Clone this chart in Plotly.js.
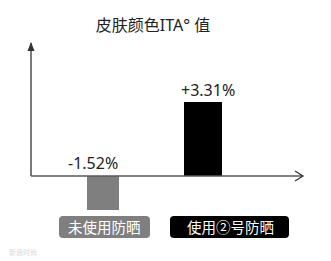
<!DOCTYPE html>
<html><head><meta charset="utf-8">
<script src="https://cdn.plot.ly/plotly-3.0.1.min.js"></script>
<style>html,body{margin:0;padding:0;background:#fff;}</style>
</head><body>
<div id="chart" style="width:331px;height:261px;"></div>
<script>
var categories = ["未使用防晒", "使用②号防晒"];
var values = [-1.52, 3.31];
var valueLabels = ["-1.52%", "+3.31%"];
var barColors = ["#7f7f7f", "#000000"];
var titleText = "皮肤颜色ITA° 值";

var FONT = "Noto Sans, Noto Sans CJK SC, sans-serif";
var yMin = -1.956, yMax = 5.911;
var xMin = -0.72, xMax = 2.0;
var xIdx = categories.map(function(c, i){ return i; });

function roundRect(x0, x1, y0, y1, r){
  return "M" + (x0+r) + "," + y1 + " L" + (x1-r) + "," + y1 + " Q" + x1 + "," + y1 + " " + x1 + "," + (y1-r) +
         " L" + x1 + "," + (y0+r) + " Q" + x1 + "," + y0 + " " + (x1-r) + "," + y0 +
         " L" + (x0+r) + "," + y0 + " Q" + x0 + "," + y0 + " " + x0 + "," + (y0+r) +
         " L" + x0 + "," + (y1-r) + " Q" + x0 + "," + y1 + " " + (x0+r) + "," + y1 + " Z";
}

var trace = {
  type: "bar",
  x: xIdx,
  y: values,
  width: [0.32, 0.38],
  marker: {color: barColors, line: {width: 0}},
  hoverinfo: "none"
};

var boxX = [[-44, 47], [-33, 86]];
var labelShift = [1, 27];

var shapes = [
  {type: "line", xref: "paper", yref: "y", x0: 0, x1: 0, y0: 0, y1: yMax, line: {color: "#595959", width: 1.6}},
  {type: "line", xref: "paper", yref: "y", x0: 0, x1: 1, y0: 0, y1: 0, line: {color: "#595959", width: 1.6}},
  {type: "path", xref: "paper", yref: "paper", xsizemode: "pixel", ysizemode: "pixel", xanchor: 0, yanchor: 1,
   path: "M0,1 L-3.5,-8 L3.5,-8 Z", fillcolor: "#333", line: {width: 0}},
  {type: "path", xref: "paper", yref: "y", xsizemode: "pixel", ysizemode: "pixel", xanchor: 1, yanchor: 0,
   path: "M-8,-5 L0,0 L-8,5", line: {color: "#333", width: 1.3}}
];

var annotations = [];
categories.forEach(function(c, i){
  shapes.push({type: "path", xref: "x", yref: "paper", xsizemode: "pixel", ysizemode: "pixel",
    xanchor: i, yanchor: 0, path: roundRect(boxX[i][0], boxX[i][1], -18, 4, 4),
    fillcolor: barColors[i], line: {width: 0}, layer: "above"});
  annotations.push({text: c, x: i, y: 0, xref: "x", yref: "paper", yanchor: "middle", xanchor: "center",
    yshift: -7, xshift: labelShift[i], showarrow: false, font: {family: FONT, size: 14.5, color: "#ffffff"}});
});

annotations.push({text: valueLabels[0], x: 0, y: 0, xref: "x", yref: "y", xanchor: "center", yanchor: "middle",
  xshift: -10, yshift: 13, showarrow: false, font: {family: FONT, size: 16, color: "#222"}});
annotations.push({text: valueLabels[1], x: 1, y: values[1], xref: "x", yref: "y", xanchor: "center", yanchor: "middle",
  xshift: 5, yshift: 12, showarrow: false, font: {family: FONT, size: 16, color: "#222"}});
annotations.push({text: "新浪时尚", x: -0.09, y: -0.186, xref: "paper", yref: "paper", xanchor: "left", yanchor: "middle",
  showarrow: false, font: {family: FONT, size: 7, color: "#d8d8d8"}});

var layout = {
  width: 331, height: 261,
  margin: {l: 31, r: 28, t: 43, b: 41, pad: 0},
  paper_bgcolor: "#fff", plot_bgcolor: "#fff",
  showlegend: false,
  title: {text: titleText, x: 0.462, xref: "container", xanchor: "center", y: 0.904, yref: "container", yanchor: "middle",
          font: {family: FONT, size: 16, color: "#222"}},
  xaxis: {range: [xMin, xMax], showgrid: false, zeroline: false, showline: false, showticklabels: false, ticks: "", fixedrange: true},
  yaxis: {range: [yMin, yMax], showgrid: false, zeroline: false, showline: false, showticklabels: false, ticks: "", fixedrange: true},
  shapes: shapes,
  annotations: annotations,
  bargap: 0
};

Plotly.newPlot("chart", [trace], layout, {staticPlot: true, displayModeBar: false});
</script>
</body></html>
